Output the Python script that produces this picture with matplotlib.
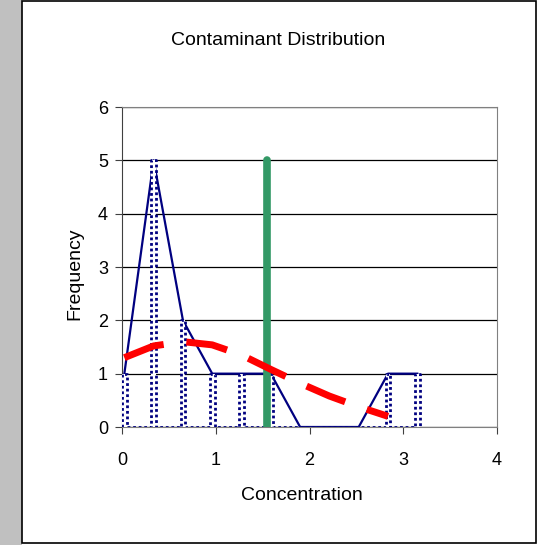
import matplotlib.pyplot as plt
from matplotlib.patches import Rectangle

# histogram bins (left edges) and counts
bin_left = [0.0, 0.3125, 0.625, 0.9375, 1.25, 1.5625, 1.875, 2.1875, 2.5, 2.8125, 3.125]
counts = [1, 5, 2, 1, 1, 1, 0, 0, 0, 1, 1]
bar_w = 0.05

# fitted curve (at bin centres)
fit_x = [0.025, 0.3375, 0.65, 0.9625, 1.275, 1.5875, 1.9, 2.2125, 2.525, 2.8375]
fit_y = [1.30, 1.52, 1.60, 1.54, 1.35, 1.08, 0.82, 0.58, 0.38, 0.20]

mean_x = 1.55
mean_top = 5

plt.rcParams['font.family'] = ['Liberation Sans', 'DejaVu Sans']

fig = plt.figure(figsize=(5.37, 5.45), dpi=100)
fig.patch.set_facecolor('white')
fig.patches.append(Rectangle((0, 0), 22 / 537, 1, transform=fig.transFigure,
                             facecolor='#c0c0c0', edgecolor='none'))
fig.patches.append(Rectangle((22 / 537, 2 / 545), 514 / 537, 542 / 545,
                             transform=fig.transFigure, facecolor='none',
                             edgecolor='black', lw=1.2))

ax = fig.add_axes([122 / 537, 118 / 545, 375 / 537, 320 / 545])

centers = [b + bar_w / 2 for b in bin_left]

# frequency polygon
ax.plot(centers, counts, color='#000080', lw=1.6, zorder=2)

# bars: white fill and dotted outline
ax.bar(bin_left, counts, width=bar_w, align='edge', color='white',
       edgecolor='none', zorder=3)
ox, oy = [], []
for b, c in zip(bin_left, counts):
    ox += [b, b, b + bar_w, b + bar_w]
    oy += [0, c, c, 0]
ax.plot(ox, oy, color='#000080', lw=2, ls=(0, (1, 1)), zorder=3.5,
        solid_capstyle='butt')

# mean line
ax.plot([mean_x, mean_x], [0, mean_top], color='#339966', lw=5.5,
        solid_capstyle='round', zorder=4)

# fitted curve
ax.plot(fit_x, fit_y, color='red', lw=5, dashes=(6, 3.3), zorder=5,
        dash_capstyle='butt')

ax.set_xlim(0, 4)
ax.set_ylim(0, 6)
ax.set_xticks([0, 1, 2, 3, 4])
ax.set_yticks([0, 1, 2, 3, 4, 5, 6])
ax.yaxis.grid(True, color='black', lw=0.9)
ax.set_axisbelow(True)
ax.tick_params(direction='out', length=5, labelsize=13, color='#404040')
ax.tick_params(axis='x', pad=13)
ax.tick_params(axis='y', pad=5)
for s in ['top', 'right']:
    ax.spines[s].set_color('#808080')
ax.spines['left'].set_color('#404040')
ax.spines['bottom'].set_color('#808080')

fig.text(278 / 537, 1 - 45 / 545, 'Contaminant Distribution', ha='center',
         va='baseline', fontsize=14)
fig.text(302 / 537, 1 - 500 / 545, 'Concentration', ha='center',
         va='baseline', fontsize=14)
fig.text(75 / 537, 1 - 274 / 545, 'Frequency', ha='center', va='center',
         rotation=90, fontsize=14)

fig.savefig('out.png', dpi=100)
